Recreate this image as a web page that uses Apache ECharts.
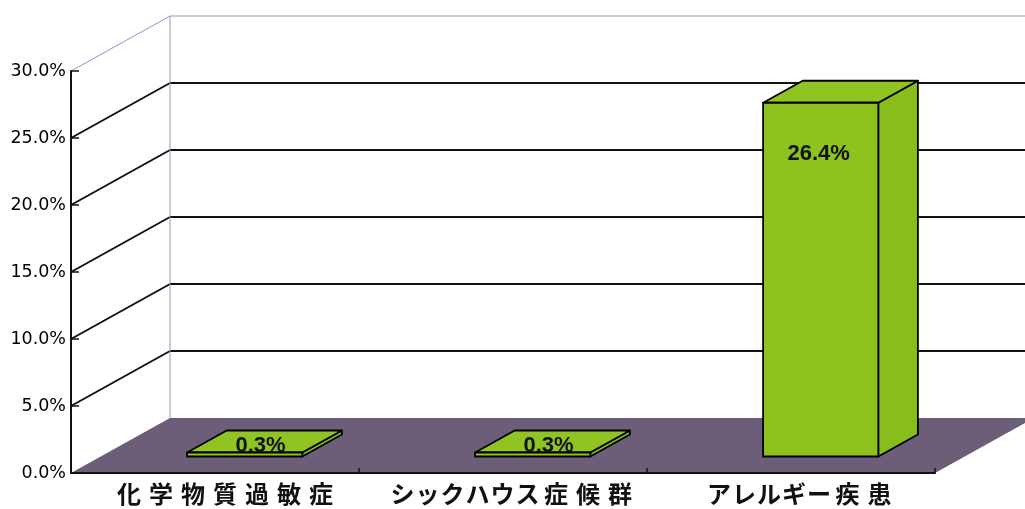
<!DOCTYPE html>
<html>
<head>
<meta charset="utf-8">
<script src="https://cdn.jsdelivr.net/npm/echarts@6/dist/echarts.min.js"></script>
<style>
  html, body { margin: 0; padding: 0; background: #ffffff; }
  #chart { width: 1025px; height: 509px; }
</style>
</head>
<body>
<div id="chart"></div>
<script>
// Survey results: share of respondents per condition
const categories = ['化学物質過敏症', 'シックハウス症候群', 'アレルギー疾患'];
const values = [0.3, 0.3, 26.4];
const wallLevels = [5, 10, 15, 20, 25, 30];

// Pseudo-3D geometry: offset of the back wall from the front plane, in px
const DEPTH = [99, -55];
const BAR_FRONT = 0.3;   // bar front face, as a fraction of the depth
const BAR_BACK = 0.7;    // bar back face
const GREEN = '#8dc21f';
const GREEN_SIDE = '#88bd1c';
const GREEN_TOP = '#90c423';
const FLOOR = '#6c5d78';
const WALL_EDGE = '#9a90c8';
const LINE = '#111111';

const chart = echarts.init(document.getElementById('chart'), null, { renderer: 'canvas' });

function renderFloor(params, api) {
  const cs = params.coordSys;
  const x0 = cs.x, x1 = cs.x + cs.width, yb = cs.y + cs.height;
  const [dx, dy] = DEPTH;
  return {
    type: 'polygon',
    shape: { points: [[x0, yb], [x1, yb], [x1 + dx, yb + dy], [x0 + dx, yb + dy]] },
    style: { fill: FLOOR }
  };
}

function renderWall(params, api) {
  const cs = params.coordSys;
  const x0 = cs.x, x1 = cs.x + cs.width, yb = cs.y + cs.height;
  const [dx, dy] = DEPTH;
  const v = api.value(1);
  const y = api.coord([0, v])[1];
  const isTop = v === wallLevels[wallLevels.length - 1];
  const stroke = isTop ? { stroke: WALL_EDGE, lineWidth: 1 } : { stroke: LINE, lineWidth: 2 };
  const children = [
    { type: 'line', shape: { x1: x0 + dx, y1: y + dy, x2: x1 + dx, y2: y + dy }, style: stroke },
    { type: 'line', shape: { x1: x0, y1: y, x2: x0 + dx, y2: y + dy }, style: stroke }
  ];
  if (isTop) {
    children.push({
      type: 'line',
      shape: { x1: x0 + dx, y1: yb + dy, x2: x0 + dx, y2: y + dy },
      style: { stroke: WALL_EDGE, lineWidth: 1 }
    });
  }
  return { type: 'group', children };
}

function renderBar(params, api) {
  const i = api.value(0), v = api.value(1);
  const base = api.coord([i, 0]);
  const top = api.coord([i, v]);
  const hw = api.size([1, 0])[0] * 0.2;
  const [dx, dy] = DEPTH;
  const fx = dx * BAR_FRONT, fy = dy * BAR_FRONT;
  const bx = dx * BAR_BACK, by = dy * BAR_BACK;
  const L = base[0] - hw, R = base[0] + hw;
  const ft = top[1] + fy, fb = base[1] + fy;
  const bt = top[1] + by, bb = base[1] + by;
  const edge = { stroke: '#000', lineWidth: 1.8, lineJoin: 'round' };

  const label = v.toFixed(1) + '%';
  const tall = fb - ft > 40;
  const lx = tall ? (L + R) / 2 + fx - 2 : (L + R) / 2 + (fx + bx) / 2 - 4;
  const ly = tall ? ft + 51 : (ft + bt) / 2 + 4;

  return {
    type: 'group',
    children: [
      { type: 'polygon', shape: { points: [[R + fx, ft], [R + bx, bt], [R + bx, bb], [R + fx, fb]] },
        style: Object.assign({ fill: GREEN_SIDE }, edge) },
      { type: 'polygon', shape: { points: [[L + fx, ft], [R + fx, ft], [R + bx, bt], [L + bx, bt]] },
        style: Object.assign({ fill: GREEN_TOP }, edge) },
      { type: 'rect', shape: { x: L + fx, y: ft, width: R - L, height: fb - ft },
        style: Object.assign({ fill: GREEN }, edge) },
      { type: 'text', x: lx, y: ly,
        style: { text: label, fill: '#111', font: 'bold 22px "Liberation Sans", Arial, sans-serif',
                 align: 'center', verticalAlign: 'middle' } }
    ]
  };
}

// Category labels: wider spacing around kanji than around kana
function spacedLabel(name) {
  return name.split('').map(ch => (/[\u4e00-\u9fff]/.test(ch) ? '{k|' + ch + '}' : '{a|' + ch + '}')).join('');
}
const labelFont = { fontSize: 24, fontWeight: 'bold', fontFamily: '"Noto Sans CJK JP", sans-serif', color: '#111', lineHeight: 24 };

chart.setOption({
  animation: false,
  backgroundColor: '#ffffff',
  grid: { left: 71, right: 90, top: 71, bottom: 36, containLabel: false },
  xAxis: {
    type: 'category',
    data: categories,
    z: 10,
    axisLine: { show: true, lineStyle: { color: LINE, width: 2 } },
    axisTick: { show: true, inside: true, length: 5, interval: 0, lineStyle: { color: LINE, width: 1.5 } },
    axisLabel: {
      interval: 0,
      hideOverlap: false,
      margin: 9,
      padding: [0, 0, 0, 20],
      formatter: spacedLabel,
      rich: {
        k: Object.assign({ padding: [0, 4] }, labelFont),
        a: Object.assign({ padding: [0, 0.5] }, labelFont)
      }
    },
    splitLine: { show: false }
  },
  yAxis: {
    type: 'value',
    min: 0,
    max: 30,
    interval: 5,
    z: 10,
    axisLine: { show: true, lineStyle: { color: LINE, width: 2 } },
    axisTick: { show: true, inside: true, length: 8, lineStyle: { color: LINE, width: 1.5 } },
    axisLabel: {
      margin: 5,
      formatter: v => v.toFixed(1) + '%',
      fontFamily: '"DejaVu Sans", sans-serif',
      fontSize: 17.5,
      color: '#000',
      padding: [13, 0, 0, 0]
    },
    splitLine: { show: false }
  },
  series: [
    { type: 'custom', name: 'floor', renderItem: renderFloor, data: [[0, 0]], clip: false, z: 1, silent: true },
    { type: 'custom', name: 'wall', renderItem: renderWall, data: wallLevels.map(v => [0, v]), clip: false, z: 2, silent: true },
    { type: 'custom', name: '割合', renderItem: renderBar, data: values.map((v, i) => [i, v]), clip: false, z: 3 }
  ]
});
</script>
</body>
</html>
